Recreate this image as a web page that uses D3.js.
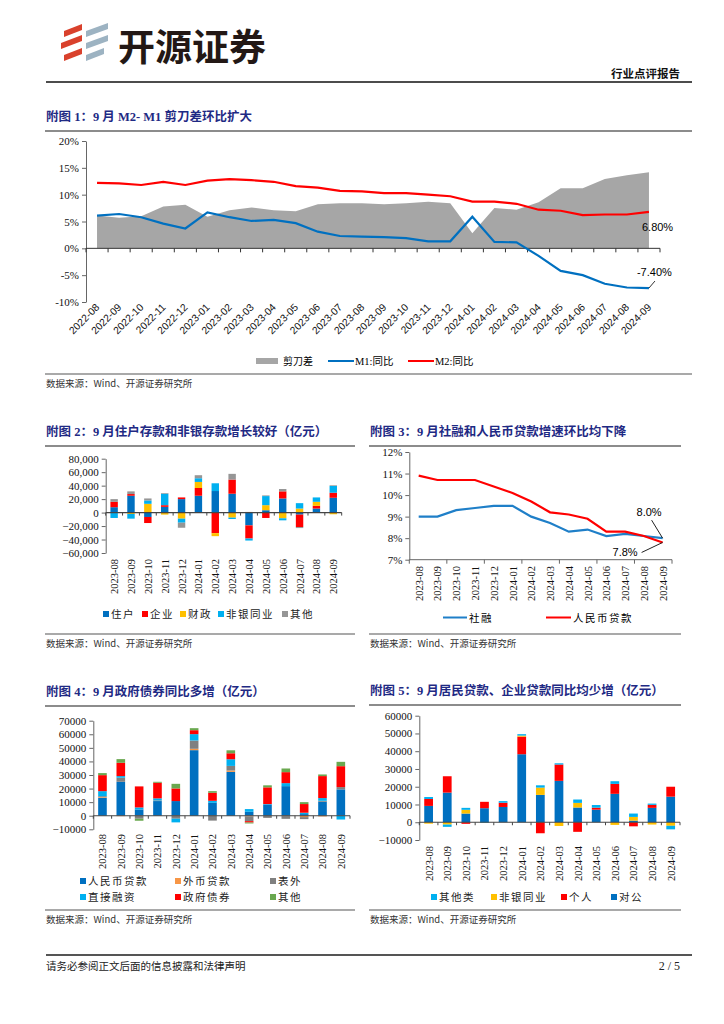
<!DOCTYPE html>
<html>
<head>
<meta charset="utf-8">
<title>开源证券 行业点评报告</title>
<style>
  body { margin: 0; background: #fff; }
  text { font-family: "Liberation Serif", "Noto Sans CJK SC", serif; }
</style>
</head>
<body>
<script src="https://cdn.jsdelivr.net/npm/d3@7"></script>
<script>
// ---------- data ----------
var months26 = ["2022-08","2022-09","2022-10","2022-11","2022-12","2023-01","2023-02","2023-03","2023-04",
  "2023-05","2023-06","2023-07","2023-08","2023-09","2023-10","2023-11","2023-12","2024-01","2024-02",
  "2024-03","2024-04","2024-05","2024-06","2024-07","2024-08","2024-09"];
var m2Yoy = [12.2,12.1,11.8,12.4,11.8,12.6,12.9,12.7,12.4,11.6,11.3,10.7,10.6,10.3,10.3,10.0,9.7,8.7,8.7,8.3,7.2,7.0,6.2,6.3,6.3,6.8];
var m1Yoy = [6.1,6.4,5.8,4.6,3.7,6.7,5.8,5.1,5.3,4.7,3.1,2.3,2.2,2.1,1.9,1.3,1.3,5.9,1.2,1.1,-1.4,-4.2,-5.0,-6.6,-7.3,-7.4];
var scissorGap = [6.1,5.7,6.0,7.8,8.1,5.9,7.1,7.6,7.1,6.9,8.2,8.4,8.4,8.2,8.4,8.7,8.4,2.8,7.5,7.2,8.6,11.2,11.2,12.9,13.6,14.2];
var pctTicks1 = [-10,-5,0,5,10,15,20];

var months14 = ["2023-08","2023-09","2023-10","2023-11","2023-12","2024-01","2024-02","2024-03","2024-04",
  "2024-05","2024-06","2024-07","2024-08","2024-09"];

// chart 2: deposits (亿元)
var depNames = ["住户","企业","财政","非银同业","其他"];
var depHousehold = [8000,25000,-6500,8500,20000,25000,32000,28000,-19000,3500,21000,-3000,6000,22000];
var depCorporate = [8000,2500,-9000,2500,2500,11500,-30500,21000,-19500,-8000,10500,-18500,4000,7500];
var depFiscal    = [0,-2000,13000,-3000,-9000,9000,-4500,-7500,0,7500,-8500,6000,6000,-2500];
var depNonbank   = [-8000,-7000,5000,17000,-6000,5500,11500,-2000,-3000,13500,-3000,8000,6500,10000];
var depOther     = [4000,4000,3000,1000,-7500,4500,0,8500,1000,1000,3500,-1500,0,1000];
var depTicks = [-60000,-40000,-20000,0,20000,40000,60000,80000];

// chart 3: growth rates
var tsfYoy  = [9.0,9.0,9.3,9.4,9.5,9.5,9.0,8.7,8.3,8.4,8.1,8.2,8.1,8.0];
var loanYoy = [10.9,10.7,10.7,10.7,10.4,10.1,9.7,9.2,9.1,8.9,8.3,8.3,8.1,7.8];
var pctTicks3 = [7,8,9,10,11,12];

// chart 4: social financing flow (亿元)
var tsfNames = ["人民币贷款","外币贷款","表外","直接融资","政府债券","其他"];
var tsfRmbLoan = [13200,25000,4600,10800,10800,48300,9500,32300,2900,8300,21800,1200,10300,19400];
var tsfFxLoan  = [500,-300,-200,-100,-200,1000,-200,1000,-500,-100,-300,-1000,-500,-100];
var tsfOffBs   = [700,3000,-2000,500,-2000,6100,-3400,3400,-3500,-1500,-2000,-1500,700,1700];
var tsfDirect  = [3700,1200,1500,1500,-2700,4700,1500,4900,2000,300,2200,1000,2000,-2700];
var tsfGovBond = [11800,9800,15500,11500,9300,2900,5900,4400,-1000,12300,8100,6400,16200,15400];
var tsfOther   = [1500,2700,-1500,700,3400,1500,1200,2200,-700,1500,2700,1400,1200,3200];
var tsfTicks = [-10000,0,10000,20000,30000,40000,50000,60000,70000];

// chart 5: loans (亿元), stacked bottom-up 对公, 个人, 非银同业, 其他类
var loanNames = ["对公","个人","非银同业","其他类"];
var loanCorp    = [9200,16700,4900,7900,8600,38300,15400,23300,8300,7100,16000,900,8100,14400];
var loanIndiv   = [3900,9200,-900,3600,2400,9900,-6200,9200,-5400,1100,5600,-2300,1700,5600];
var loanNonbank = [-800,-1300,2100,0,0,600,4100,-2100,2600,0,-1500,2100,-1300,-2000];
var loanOther   = [1100,-1300,1100,-400,900,800,1300,700,1900,1500,1500,1900,700,-2000];
var loanTicks = [-10000,0,10000,20000,30000,40000,50000,60000];

var BLUE = "#0070c0", RED = "#ff0000", YEL = "#ffc000", CYAN = "#00b0f0", GRAY = "#a0a0a0";
var NAVY = "#1f2a84";
var CJK = "'Noto Sans CJK SC', sans-serif";
var SANS = "'Liberation Sans', Arial, sans-serif";

var svg = d3.select("body").append("svg")
  .attr("width", 724).attr("height", 1024);
svg.append("rect").attr("width", 724).attr("height", 1024).attr("fill", "#fff");

// ---------- page header ----------
var logo = svg.append("g");
var redStripes = ["M64,31 L82,24 L82,30 L64,37 Z","M61,43 L82,35 L82,41 L61,49 Z","M64,55 L82,48 L82,54 L64,61 Z"];
var greyStripes = ["M86,31 L108,23 L108,29 L86,37 Z","M86,43 L108,35 L108,41 L86,49 Z","M86,55 L104,48 L104,54 L86,61 Z"];
logo.selectAll(".r").data(redStripes).enter().append("path").attr("d", function(d){ return d; }).attr("fill", "#d9412c");
logo.selectAll(".g").data(greyStripes).enter().append("path").attr("d", function(d){ return d; }).attr("fill", "#9db3c2");
svg.append("text").attr("x", 118).attr("y", 61)
  .style("font-family", CJK).style("font-weight", "bold").attr("font-size", 37).attr("fill", "#231815")
  .text("开源证券");
svg.append("text").attr("x", 680).attr("y", 78).attr("text-anchor", "end")
  .style("font-family", CJK).style("font-weight", "bold").attr("font-size", 11.5).attr("fill", "#111")
  .text("行业点评报告");
svg.append("line").attr("x1", 46).attr("x2", 692).attr("y1", 82).attr("y2", 82)
  .attr("stroke", "#111").attr("stroke-width", 1.5);

// footer
svg.append("line").attr("x1", 46).attr("x2", 692).attr("y1", 955).attr("y2", 955)
  .attr("stroke", "#555").attr("stroke-width", 2);
svg.append("text").attr("x", 46).attr("y", 970).style("font-family", CJK).attr("font-size", 10.5)
  .attr("fill", "#222").text("请务必参阅正文后面的信息披露和法律声明");
svg.append("text").attr("x", 680).attr("y", 970).attr("text-anchor", "end").attr("font-size", 12)
  .attr("fill", "#222").text("2 / 5");

function chartTitle(x, y, x2, txt) {
  svg.append("text").attr("x", x).attr("y", y)
    .style("font-family", "'Liberation Serif', 'Noto Sans CJK SC'").style("font-weight", "bold")
    .attr("font-size", 12.5).attr("fill", NAVY).text(txt);
  svg.append("line").attr("x1", x - 1).attr("x2", x2).attr("y1", y + 10).attr("y2", y + 10)
    .attr("stroke", "#8c8c8c").attr("stroke-width", 1.8);
}
function sourceNote(x, y, x2) {
  svg.append("line").attr("x1", x - 1).attr("x2", x2).attr("y1", y - 12).attr("y2", y - 12)
    .attr("stroke", "#8c8c8c").attr("stroke-width", 1.5);
  svg.append("text").attr("x", x).attr("y", y + 1).style("font-family", CJK).attr("font-size", 9.5)
    .attr("fill", "#333").text("数据来源：Wind、开源证券研究所");
}
function yAxis(g, scale, x, ticks, fmt) {
  var ax = g.append("g").attr("transform", "translate(" + x + ",0)")
    .call(d3.axisLeft(scale).tickValues(ticks).tickFormat(fmt).tickSize(4).tickSizeOuter(0));
  ax.select(".domain").attr("stroke", "#666");
  ax.selectAll(".tick line").attr("stroke", "#666");
  ax.selectAll(".tick text").attr("font-size", 11).attr("fill", "#111")
    .style("font-family", "'Liberation Serif', serif");
  return ax;
}

// ---------- chart 1 ----------
chartTitle(46, 121, 692, "附图 1：9 月 M2- M1 剪刀差环比扩大");
var g1 = svg.append("g");
var x1 = d3.scaleBand().domain(months26).range([86, 660]);
var y1 = d3.scaleLinear().domain([-10, 20]).range([302, 141]);
var cx1 = function(m){ return x1(m) + x1.bandwidth() / 2; };

var gapData = months26.map(function(m, i){ return {m: m, v: scissorGap[i]}; });
g1.append("path").datum(gapData)
  .attr("fill", "#a6a6a6")
  .attr("d", d3.area().x(function(d){ return cx1(d.m); }).y0(y1(0)).y1(function(d){ return y1(d.v); }));

yAxis(g1, y1, 86, pctTicks1, function(d){ return d + "%"; });

// x axis on the zero line with ticks at band edges
g1.append("line").attr("x1", 86).attr("x2", 660).attr("y1", y1(0)).attr("y2", y1(0)).attr("stroke", "#333");
g1.selectAll(".xt1").data(d3.range(months26.length + 1)).enter().append("line")
  .attr("x1", function(i){ return 86 + i * x1.step(); }).attr("x2", function(i){ return 86 + i * x1.step(); })
  .attr("y1", y1(0)).attr("y2", y1(0) + 4).attr("stroke", "#333");

var lineGen1 = d3.line().x(function(d){ return cx1(d.m); }).y(function(d){ return y1(d.v); });
g1.append("path").datum(months26.map(function(m, i){ return {m: m, v: m2Yoy[i]}; }))
  .attr("fill", "none").attr("stroke", RED).attr("stroke-width", 2.2).attr("d", lineGen1);
g1.append("path").datum(months26.map(function(m, i){ return {m: m, v: m1Yoy[i]}; }))
  .attr("fill", "none").attr("stroke", BLUE).attr("stroke-width", 2.2).attr("d", lineGen1);

g1.selectAll(".xl1").data(months26).enter().append("text")
  .attr("transform", function(m){ return "translate(" + (cx1(m) + 3) + ",308) rotate(-45)"; })
  .attr("text-anchor", "end").attr("font-size", 10.3).style("font-family", SANS).attr("fill", "#111")
  .text(function(m){ return m; });

var lastM = months26[months26.length - 1];
g1.append("text").attr("x", cx1(lastM) - 7).attr("y", y1(m2Yoy[25]) + 19).attr("font-size", 11)
  .style("font-family", SANS).text(m2Yoy[25].toFixed(2) + "%");
g1.append("text").attr("x", cx1(lastM) - 12).attr("y", y1(m1Yoy[25]) - 12).attr("font-size", 11)
  .style("font-family", SANS).text(m1Yoy[25].toFixed(2) + "%");
g1.append("line").attr("x1", cx1(lastM)).attr("y1", y1(m1Yoy[25]))
  .attr("x2", cx1(lastM) + 6).attr("y2", y1(m1Yoy[25]) - 7).attr("stroke", "#333");

// legend 1
var leg1 = svg.append("g").attr("transform", "translate(0,361)");
leg1.append("rect").attr("x", 256).attr("y", -3).attr("width", 22).attr("height", 6).attr("fill", "#a6a6a6");
leg1.append("text").attr("x", 283).attr("y", 4).style("font-family", CJK).attr("font-size", 10).text("剪刀差");
leg1.append("line").attr("x1", 328).attr("x2", 354).attr("y1", 0).attr("y2", 0).attr("stroke", BLUE).attr("stroke-width", 2);
leg1.append("text").attr("x", 355).attr("y", 4).attr("font-size", 10.5).text("M1:同比");
leg1.append("line").attr("x1", 408).attr("x2", 434).attr("y1", 0).attr("y2", 0).attr("stroke", RED).attr("stroke-width", 2);
leg1.append("text").attr("x", 435).attr("y", 4).attr("font-size", 10.5).text("M2:同比");
sourceNote(46, 386, 692);

// ---------- stacked bar helper ----------
function stackedBars(cfg) {
  var g = svg.append("g");
  var x = d3.scaleBand().domain(months14).range(cfg.xr);
  var y = d3.scaleLinear().domain(cfg.yd).range(cfg.yr);
  var rows = months14.map(function(m, i){
    var r = {m: m};
    cfg.names.forEach(function(n, k){ r[n] = cfg.series[k][i]; });
    return r;
  });
  var stack = d3.stack().keys(cfg.names).offset(d3.stackOffsetDiverging)(rows);
  var bw = x.bandwidth() * cfg.frac;
  g.selectAll(".layer").data(stack).enter().append("g")
    .attr("fill", function(d, k){ return cfg.colors[k]; })
    .selectAll("rect").data(function(d){ return d; }).enter().append("rect")
    .attr("x", function(d){ return x(d.data.m) + (x.bandwidth() - bw) / 2; })
    .attr("width", bw)
    .attr("y", function(d){ return y(Math.max(d[0], d[1])); })
    .attr("height", function(d){ return Math.abs(y(d[0]) - y(d[1])); });

  yAxis(g, y, cfg.xr[0], cfg.ticks, cfg.fmt);
  g.append("line").attr("x1", cfg.xr[0]).attr("x2", cfg.xr[1]).attr("y1", y(0)).attr("y2", y(0))
    .attr("stroke", "#444").attr("stroke-width", 1.2);
  g.selectAll(".xt").data(d3.range(months14.length + 1)).enter().append("line")
    .attr("x1", function(i){ return cfg.xr[0] + i * x.step(); })
    .attr("x2", function(i){ return cfg.xr[0] + i * x.step(); })
    .attr("y1", y(0)).attr("y2", y(0) + 3).attr("stroke", "#444");
  g.selectAll(".xl").data(months14).enter().append("text")
    .attr("transform", function(m){ return "translate(" + (x(m) + x.bandwidth() / 2 + 4) + "," + cfg.labelY + ") rotate(-90)"; })
    .attr("text-anchor", "end").attr("font-size", 10.5).attr("fill", "#111")
    .style("font-family", "'Liberation Serif', serif")
    .text(function(m){ return m; });
  return g;
}
function squareLegend(items) {
  items.forEach(function(it){
    svg.append("rect").attr("x", it.x).attr("y", it.y - 3).attr("width", 6).attr("height", 6).attr("fill", it.c);
    svg.append("text").attr("x", it.x + 8).attr("y", it.y + 4).style("font-family", CJK)
      .attr("font-size", 10.5).attr("letter-spacing", 1.5).attr("fill", "#222").text(it.t);
  });
}

// ---------- chart 2 ----------
chartTitle(46, 436, 355, "附图 2：9 月住户存款和非银存款增长较好（亿元）");
stackedBars({
  names: depNames,
  series: [depHousehold, depCorporate, depFiscal, depNonbank, depOther],
  colors: [BLUE, RED, YEL, CYAN, "#969696"],
  xr: [105.7, 341.7], yd: [-60000, 80000], yr: [553, 458.7],
  ticks: depTicks, fmt: d3.format(","), frac: 0.44, labelY: 559
});
squareLegend([
  {x: 103, y: 614, c: BLUE, t: depNames[0]},
  {x: 142, y: 614, c: RED, t: depNames[1]},
  {x: 180, y: 614, c: YEL, t: depNames[2]},
  {x: 218, y: 614, c: CYAN, t: depNames[3]},
  {x: 282, y: 614, c: "#969696", t: depNames[4]}
]);
sourceNote(46, 646, 355);

// ---------- chart 3 ----------
chartTitle(370, 436, 681, "附图 3：9 月社融和人民币贷款增速环比均下降");
var g3 = svg.append("g");
var x3 = d3.scaleBand().domain(months14).range([409.3, 672]);
var y3 = d3.scaleLinear().domain([7, 12]).range([559.7, 452]);
var cx3 = function(m){ return x3(m) + x3.bandwidth() / 2; };
yAxis(g3, y3, 409.3, pctTicks3, function(d){ return d + "%"; });
g3.append("line").attr("x1", 409.3).attr("x2", 672).attr("y1", y3(7)).attr("y2", y3(7)).attr("stroke", "#666");
g3.selectAll(".xt3").data(d3.range(0, months14.length + 1, 2)).enter().append("line")
  .attr("x1", function(i){ return 409.3 + i * x3.step(); }).attr("x2", function(i){ return 409.3 + i * x3.step(); })
  .attr("y1", y3(7)).attr("y2", y3(7) + 4).attr("stroke", "#666");
var lineGen3 = d3.line().x(function(d){ return cx3(d.m); }).y(function(d){ return y3(d.v); });
g3.append("path").datum(months14.map(function(m, i){ return {m: m, v: tsfYoy[i]}; }))
  .attr("fill", "none").attr("stroke", "#1f7fc8").attr("stroke-width", 2.2).attr("d", lineGen3);
g3.append("path").datum(months14.map(function(m, i){ return {m: m, v: loanYoy[i]}; }))
  .attr("fill", "none").attr("stroke", RED).attr("stroke-width", 2.2).attr("d", lineGen3);
g3.selectAll(".xl3").data(months14).enter().append("text")
  .attr("transform", function(m){ return "translate(" + (cx3(m) + 4) + ",566) rotate(-90)"; })
  .attr("text-anchor", "end").attr("font-size", 10.5).attr("fill", "#111")
  .style("font-family", "'Liberation Serif', serif").text(function(m){ return m; });
var last3 = months14[13];
g3.append("text").attr("x", cx3(last3) - 1).attr("y", y3(tsfYoy[13]) - 22).attr("text-anchor", "end")
  .attr("font-size", 11).style("font-family", SANS).text(tsfYoy[13].toFixed(1) + "%");
g3.append("line").attr("x1", cx3(last3) - 11).attr("y1", y3(tsfYoy[13]) - 18)
  .attr("x2", cx3(last3)).attr("y2", y3(tsfYoy[13])).attr("stroke", "#222");
g3.append("text").attr("x", cx3(last3) - 25).attr("y", y3(loanYoy[13]) + 14).attr("text-anchor", "end")
  .attr("font-size", 11).style("font-family", SANS).text(loanYoy[13].toFixed(1) + "%");
g3.append("line").attr("x1", cx3(last3) - 21).attr("y1", y3(loanYoy[13]) + 10)
  .attr("x2", cx3(last3)).attr("y2", y3(loanYoy[13])).attr("stroke", "#222");
// legend 3
svg.append("line").attr("x1", 443).attr("x2", 467).attr("y1", 617.5).attr("y2", 617.5).attr("stroke", "#1f7fc8").attr("stroke-width", 2);
svg.append("text").attr("x", 469).attr("y", 621.5).style("font-family", CJK).attr("font-size", 10.5).attr("letter-spacing", 1.5).text("社融");
svg.append("line").attr("x1", 546).attr("x2", 571).attr("y1", 617.5).attr("y2", 617.5).attr("stroke", RED).attr("stroke-width", 2);
svg.append("text").attr("x", 573).attr("y", 621.5).style("font-family", CJK).attr("font-size", 10.5).attr("letter-spacing", 1.5).text("人民币贷款");
sourceNote(370, 646, 681);

// ---------- chart 4 ----------
chartTitle(46, 696, 355, "附图 4：9 月政府债券同比多增（亿元）");
var tsfColors = [BLUE, "#f79646", "#808080", CYAN, RED, "#6aa84f"];
stackedBars({
  names: tsfNames,
  series: [tsfRmbLoan, tsfFxLoan, tsfOffBs, tsfDirect, tsfGovBond, tsfOther],
  colors: tsfColors,
  xr: [93.3, 350], yd: [-10000, 70000], yr: [829.3, 720.7],
  ticks: tsfTicks, fmt: d3.format("d"), frac: 0.47, labelY: 834
});
squareLegend([
  {x: 80, y: 881, c: tsfColors[0], t: tsfNames[0]},
  {x: 175, y: 881, c: tsfColors[1], t: tsfNames[1]},
  {x: 270, y: 881, c: tsfColors[2], t: tsfNames[2]},
  {x: 80, y: 897, c: tsfColors[3], t: tsfNames[3]},
  {x: 175, y: 897, c: tsfColors[4], t: tsfNames[4]},
  {x: 270, y: 897, c: tsfColors[5], t: tsfNames[5]}
]);
sourceNote(46, 922, 355);

// ---------- chart 5 ----------
chartTitle(370, 695, 681, "附图 5：9 月居民贷款、企业贷款同比均少增（亿元）");
stackedBars({
  names: loanNames,
  series: [loanCorp, loanIndiv, loanNonbank, loanOther],
  colors: [BLUE, RED, YEL, CYAN],
  xr: [419.3, 680], yd: [-10000, 60000], yr: [840, 715.7],
  ticks: loanTicks, fmt: d3.format("d"), frac: 0.47, labelY: 846
});
squareLegend([
  {x: 431, y: 897, c: CYAN, t: loanNames[3]},
  {x: 491, y: 897, c: YEL, t: loanNames[2]},
  {x: 561, y: 897, c: RED, t: loanNames[1]},
  {x: 611, y: 897, c: BLUE, t: loanNames[0]}
]);
sourceNote(370, 922, 681);
</script>
</body>
</html>
